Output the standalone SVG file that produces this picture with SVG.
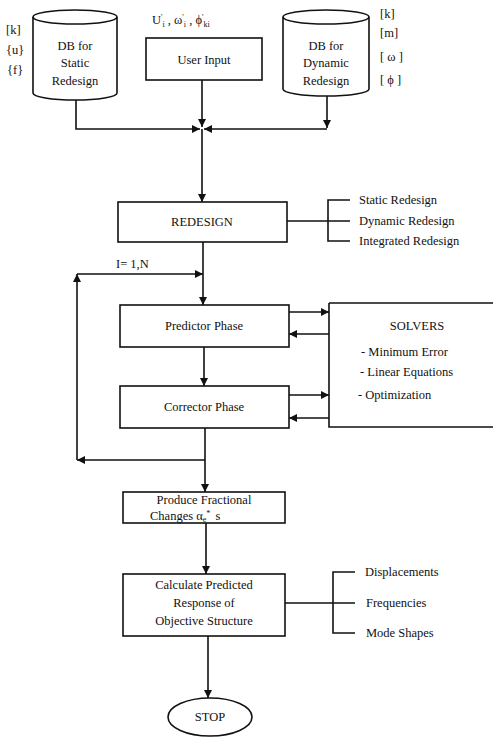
<svg xmlns="http://www.w3.org/2000/svg" width="495" height="737" viewBox="0 0 495 737">
<style>
text{font-family:"Liberation Serif","Times New Roman",serif;font-size:12.5px;fill:#111}
.c{text-anchor:middle}
.box{fill:#fff;stroke:#111;stroke-width:1.6}
.ln{fill:none;stroke:#111;stroke-width:1.6}
.sm{font-size:8px}
</style>
<defs>
<marker id="ah" viewBox="0 0 10 10" refX="10" refY="5" markerWidth="9" markerHeight="8" markerUnits="userSpaceOnUse" orient="auto">
<path d="M0,0 L10,5 L0,10 Z" fill="#111"/>
</marker>
</defs>
<rect width="495" height="737" fill="#fff"/>

<g id="connectors">
<path class="ln" d="M76,100 V129 H200" marker-end="url(#ah)"/>
<path class="ln" d="M327,96 V128" marker-end="url(#ah)"/>
<path class="ln" d="M327,129 H204" marker-end="url(#ah)"/>
<path class="ln" d="M202,80 V127" marker-end="url(#ah)"/>
<path class="ln" d="M202,129 V202" marker-end="url(#ah)"/>
<path class="ln" d="M287,221 H328 M350,200 H328 V241 H350 M328,221 H350"/>
<path class="ln" d="M203,242 V305" marker-end="url(#ah)"/>
<path class="ln" d="M77,274 H203" marker-end="url(#ah)"/>
<path class="ln" d="M77,460 V274" marker-end="url(#ah)"/>
<path class="ln" d="M205,460 H77" marker-end="url(#ah)"/>
<path class="ln" d="M204,347 V386" marker-end="url(#ah)"/>
<path class="ln" d="M289,312 H329" marker-end="url(#ah)"/>
<path class="ln" d="M329,334 H289" marker-end="url(#ah)"/>
<path class="ln" d="M289,395 H329" marker-end="url(#ah)"/>
<path class="ln" d="M329,418 H289" marker-end="url(#ah)"/>
<path class="ln" d="M205,428 V492" marker-end="url(#ah)"/>
<path class="ln" d="M206,523 V574" marker-end="url(#ah)"/>
<path class="ln" d="M285,603 H333 M355,572 H333 V633 H355 M333,603 H355"/>
<path class="ln" d="M208,636 V698" marker-end="url(#ah)"/>
</g>

<g id="db-static">
<path class="box" d="M33,17 A42,7 0 0 1 117,17 V93 A42,7 0 0 1 33,93 Z"/>
<path class="ln" d="M33,17 A42,7 0 0 0 117,17"/>
<text class="c" x="75" y="50">DB for</text>
<text class="c" x="75" y="67">Static</text>
<text class="c" x="75" y="85">Redesign</text>
<text x="6" y="34">[k]</text>
<text x="6" y="54">{u}</text>
<text x="7" y="74">{f}</text>
</g>

<g id="user-input">
<text x="152" y="24">U<tspan class="sm" dy="-4">'</tspan><tspan class="sm" dy="7">i</tspan><tspan dy="-3"> , ω</tspan><tspan class="sm" dy="-4">'</tspan><tspan class="sm" dy="7">i</tspan><tspan dy="-3"> , ϕ</tspan><tspan class="sm" dy="-4">'</tspan><tspan class="sm" dy="7">ki</tspan></text>
<rect class="box" x="146" y="38" width="116" height="42"/>
<text class="c" x="204" y="64">User Input</text>
</g>

<g id="db-dynamic">
<path class="box" d="M283,17 A43,7 0 0 1 369,17 V89 A43,7 0 0 1 283,89 Z"/>
<path class="ln" d="M283,17 A43,7 0 0 0 369,17"/>
<text class="c" x="326" y="50">DB for</text>
<text class="c" x="326" y="67">Dynamic</text>
<text class="c" x="326" y="85">Redesign</text>
<text x="380" y="18">[k]</text>
<text x="380" y="37">[m]</text>
<text x="380" y="61">[ ω ]</text>
<text x="380" y="84">[ ϕ ]</text>
</g>

<g id="redesign">
<rect class="box" x="118" y="202" width="169" height="40"/>
<text class="c" x="202" y="226">REDESIGN</text>
<text x="359" y="204">Static Redesign</text>
<text x="359" y="225">Dynamic Redesign</text>
<text x="359" y="245">Integrated Redesign</text>
</g>

<text x="116" y="268">I= 1,N</text>

<g id="predictor">
<rect class="box" x="120" y="305" width="169" height="42"/>
<text class="c" x="204" y="330">Predictor Phase</text>
</g>

<g id="corrector">
<rect class="box" x="120" y="386" width="169" height="42"/>
<text class="c" x="204" y="411">Corrector Phase</text>
</g>

<g id="solvers">
<path class="ln" d="M329,303 H493 M329,303 V427 H493"/>
<text class="c" x="417" y="330">SOLVERS</text>
<text x="361" y="356">- Minimum Error</text>
<text x="360" y="376">- Linear Equations</text>
<text x="358" y="399">- Optimization</text>
</g>

<g id="produce">
<rect class="box" x="123" y="492" width="162" height="31"/>
<text class="c" x="204" y="504">Produce Fractional</text>
<text x="150" y="520">Changes  α<tspan class="sm" dy="2">e</tspan><tspan class="sm" dy="-6">*</tspan><tspan dx="2" dy="4"> s</tspan></text>
</g>

<g id="calculate">
<rect class="box" x="123" y="574" width="162" height="62"/>
<text class="c" x="204" y="589">Calculate Predicted</text>
<text class="c" x="204" y="607">Response of</text>
<text class="c" x="204" y="625">Objective Structure</text>
<text x="365" y="576">Displacements</text>
<text x="366" y="607">Frequencies</text>
<text x="366" y="637">Mode Shapes</text>
</g>

<g id="stop">
<ellipse class="box" cx="210" cy="717" rx="42" ry="19"/>
<text class="c" x="210" y="721">STOP</text>
</g>
</svg>
